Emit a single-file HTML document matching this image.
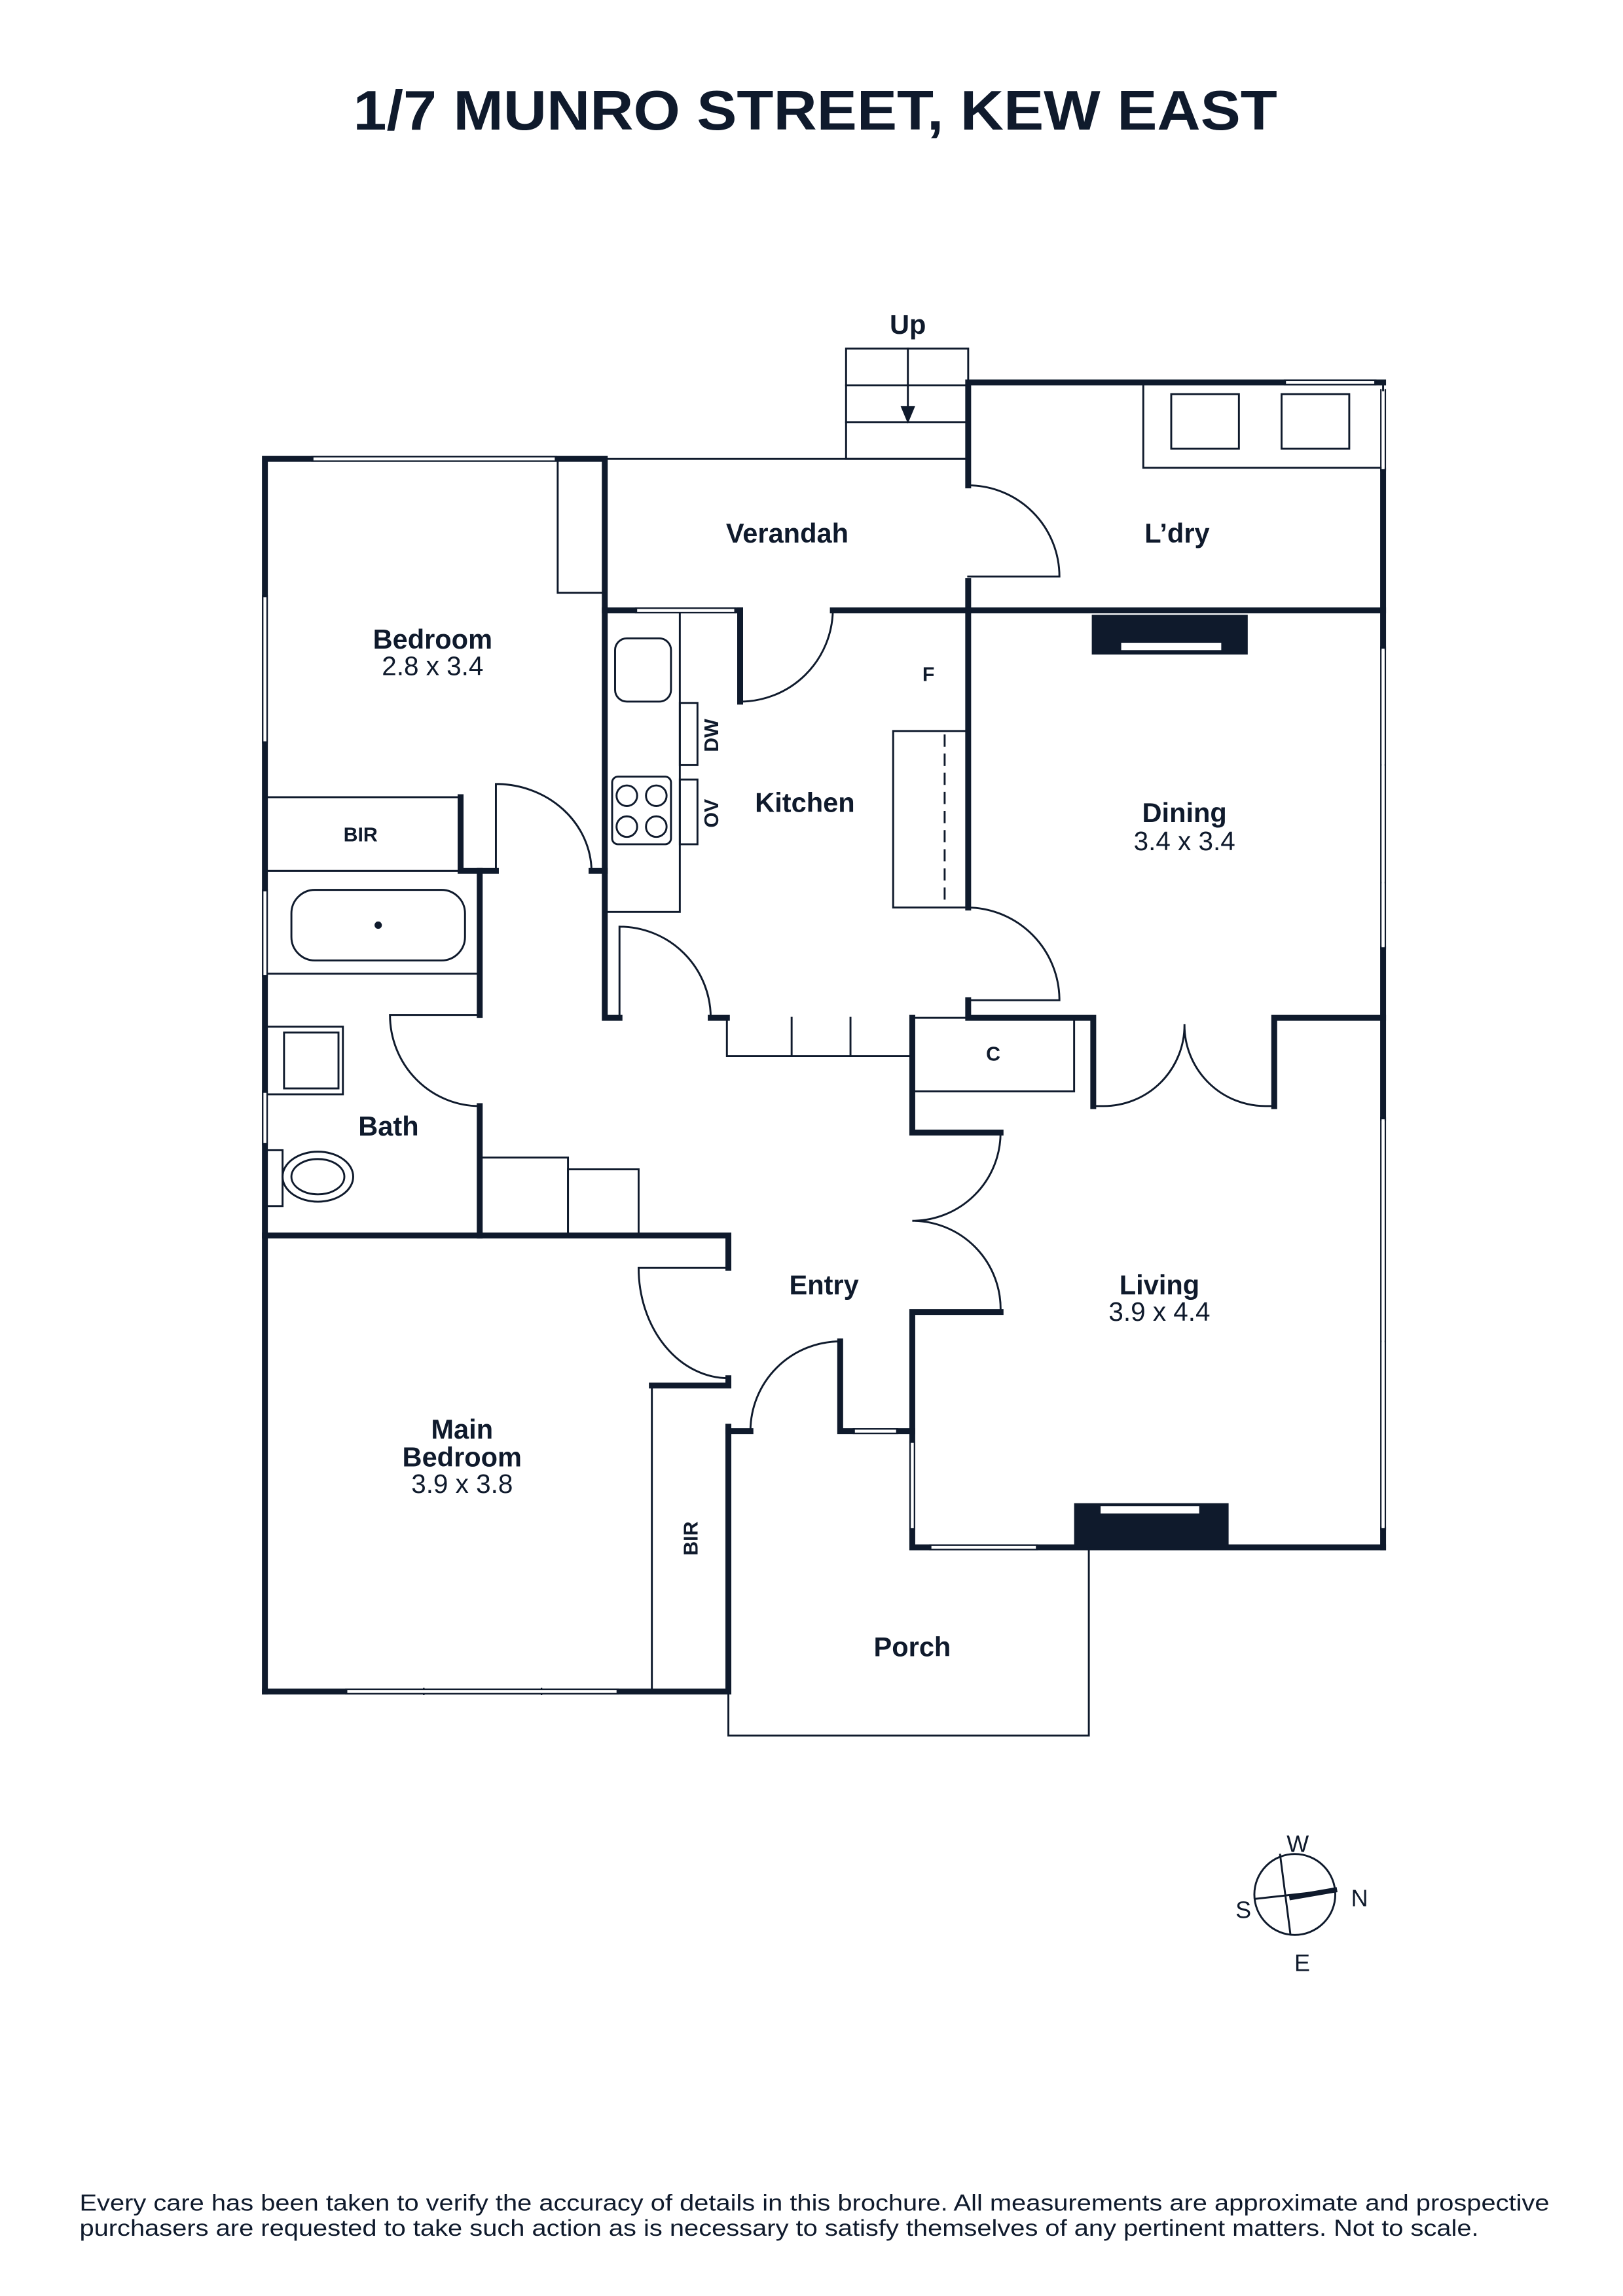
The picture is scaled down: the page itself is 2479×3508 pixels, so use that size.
<!DOCTYPE html>
<html><head><meta charset="utf-8"><style>
html,body{margin:0;padding:0;background:#fff}
svg{display:block}
text{font-family:"Liberation Sans",sans-serif;fill:#0f1a2c}
</style></head><body>
<svg width="2479" height="3508" viewBox="0 0 1103 1561" xmlns="http://www.w3.org/2000/svg">
<rect width="1103" height="1561" fill="#fff"/>
<text x="240" y="88" font-size="38" font-weight="bold" textLength="628" lengthAdjust="spacingAndGlyphs">1/7 MUNRO STREET, KEW EAST</text>

<g stroke="#0f1a2c" fill="none" stroke-linecap="square">
<g stroke-width="4">
<path d="M180,1150 V312 H411 V415 H503"/>
<path d="M566,415 H940"/>
<path d="M658,260 V330 M658,395 V415 M658,260 H940"/>
<path d="M940,320 V440 M940,645 V760 M940,1040 V1052"/>
<path d="M411,415 V692 H421 M483,692 H494"/>
<path d="M503,415 V477"/>
<path d="M658,415 V617 M658,680 V692 H743 V752 M866,752 V692 H940"/>
<path d="M313,542 V592 H337 M402,592 H411"/>
<path d="M326,592 V690 M326,752 V840"/>
<path d="M180,840 H495 V862 M495,937 V942 H443"/>
<path d="M495,970 V1150 H180"/>
<path d="M495,973 H510 M571,912 V973 H620 V1052 H940"/>
<path d="M620,692 V770 H680 M680,892 H620 V973"/>
</g>
<g stroke-width="1.3">
<path d="M411,312 H658"/>
<rect x="575" y="237" width="83" height="75"/>
<path d="M575,262 H658 M575,287 H658 M617,237 V282"/>
<rect x="379" y="312" width="32" height="91"/>
<rect x="777" y="260" width="163" height="58"/>
<rect x="796" y="268" width="46" height="37"/>
<rect x="871" y="268" width="46" height="37"/>
<path d="M658,330 A62,62 0 0 1 720,392 M658,392 H720"/>
<path d="M503,477 A63,63 0 0 0 566,415"/>
<rect x="411" y="415" width="51" height="205"/>
<rect x="418" y="434" width="38" height="43" rx="8"/>
<rect x="462" y="478" width="12" height="42"/>
<rect x="462" y="530" width="12" height="44"/>
<rect x="416" y="528" width="40" height="46" rx="4"/>
<circle cx="426" cy="541" r="7"/><circle cx="446" cy="541" r="7"/>
<circle cx="426" cy="562" r="7"/><circle cx="446" cy="562" r="7"/>
<rect x="607" y="497" width="51" height="120"/>
<path d="M642,500 V617" stroke-dasharray="7,6"/>
<path d="M658,617 A63,63 0 0 1 720,680 M658,680 H720"/>
<path d="M421,630 V692 M421,630 A62,62 0 0 1 483,692"/>
<path d="M494,692 V718 H620 V692 M538,692 V718 M578,692 V718"/>
<rect x="620" y="692" width="110" height="50"/>
<path d="M743,752 H750 A55,55 0 0 0 805,697 V702 M866,752 H860 A55,55 0 0 1 805,697"/>
<path d="M680,770 A60,60 0 0 1 620,830 A60,60 0 0 1 680,892"/>
<rect x="180" y="542" width="133" height="50"/>
<rect x="180" y="592" width="146" height="70"/>
<rect x="198" y="605" width="118" height="48" rx="16"/>
<path d="M337,533 V592 M337,533 A65,60 0 0 1 402,592"/>
<path d="M265,690 H326 M265,690 A61,62 0 0 0 326,752"/>
<rect x="180" y="698" width="53" height="46"/><rect x="193" y="702" width="37" height="38"/>
<rect x="180" y="782" width="12" height="38"/>
<ellipse cx="216" cy="800" rx="24" ry="17"/><ellipse cx="216" cy="800" rx="18" ry="12"/>
<rect x="326" y="787" width="60" height="53"/>
<rect x="386" y="795" width="48" height="45"/>
<path d="M434,862 H495 M434,862 A61,75 0 0 0 495,937"/>
<path d="M443,942 V1150"/>
<path d="M571,912 A61,61 0 0 0 510,973"/>
<path d="M495,1052 V1180 H740 V1052"/>
<circle cx="880" cy="1288" r="27.5"/>
<path d="M870,1261 L877,1315 M853,1291 L907,1285"/>
</g>
<path d="M878,1290 L907,1285" stroke-width="3.5"/>
<g stroke-width="1">
<path d="M212,310.5 H378 M212,313.5 H378"/>
<path d="M432,413.5 H500 M432,416.5 H500"/>
<path d="M873,258.5 H935 M873,261.5 H935"/>
<path d="M938.5,265 V320 M941.5,265 V320"/>
<path d="M178.5,405 V505 M181.5,405 V505 M178.5,605 V664 M181.5,605 V664 M178.5,742 V778 M181.5,742 V778"/>
<path d="M235,1148.5 H420 M235,1151.5 H420 M288,1148 V1152 M368,1148 V1152"/>
<path d="M938.5,440 V645 M941.5,440 V645 M939,520 H941 M939,600 H941"/>
<path d="M938.5,760 V1040 M941.5,760 V1040 M939,912 H941"/>
<path d="M580,971.5 H610 M580,974.5 H610"/>
<path d="M618.5,980 V1040 M621.5,980 V1040"/>
<path d="M632,1050.5 H705 M632,1053.5 H705"/>
</g>
</g>
<g fill="#fff">
<rect x="213" y="311" width="164" height="2"/><rect x="433" y="414" width="66" height="2"/>
<rect x="874" y="259" width="60" height="2"/><rect x="939" y="266" width="2" height="53"/>
<rect x="179" y="406" width="2" height="98"/><rect x="179" y="606" width="2" height="57"/><rect x="179" y="743" width="2" height="34"/>
<rect x="236" y="1149" width="183" height="2"/><rect x="939" y="441" width="2" height="203"/>
<rect x="939" y="761" width="2" height="278"/><rect x="581" y="972" width="28" height="2"/>
<rect x="619" y="981" width="2" height="58"/><rect x="633" y="1051" width="71" height="2"/>
</g>
<path d="M612,276 L622,276 L617,288 Z" fill="#0f1a2c"/>
<circle cx="257" cy="629" r="2.5" fill="#0f1a2c"/>
<rect x="742" y="418" width="106" height="27" fill="#0f1a2c"/>
<rect x="762" y="437" width="68" height="5" fill="#fff"/>
<rect x="730" y="1022" width="105" height="30" fill="#0f1a2c"/>
<rect x="748" y="1024" width="67" height="5" fill="#fff"/>

<g font-size="18.5" font-weight="bold" text-anchor="middle">
<text x="617" y="227">Up</text>
<text x="535" y="369">Verandah</text>
<text x="800" y="369">L’dry</text>
<text x="294" y="441">Bedroom</text>
<text x="547" y="552">Kitchen</text>
<text x="805" y="559">Dining</text>
<text x="264" y="772">Bath</text>
<text x="560" y="880">Entry</text>
<text x="788" y="880">Living</text>
<text x="314" y="978">Main</text>
<text x="314" y="997">Bedroom</text>
<text x="620" y="1126">Porch</text>
</g>
<g font-size="18" text-anchor="middle">
<text x="294" y="459">2.8 x 3.4</text>
<text x="805" y="578">3.4 x 3.4</text>
<text x="788" y="898">3.9 x 4.4</text>
<text x="314" y="1015">3.9 x 3.8</text>
</g>
<g font-size="13.5" font-weight="bold" text-anchor="middle">
<text x="245" y="572">BIR</text>
<text x="631" y="463">F</text>
<text x="675" y="721">C</text>
<text transform="translate(488,500) rotate(-90)">DW</text>
<text transform="translate(488,553) rotate(-90)">OV</text>
<text transform="translate(474,1046) rotate(-90)">BIR</text>
</g>
<g font-size="16" text-anchor="middle">
<text x="882" y="1259">W</text>
<text x="924" y="1296">N</text>
<text x="845" y="1304">S</text>
<text x="885" y="1340">E</text>
</g>
<g font-size="15.5">
<text x="54" y="1503" textLength="999" lengthAdjust="spacingAndGlyphs">Every care has been taken to verify the accuracy of details in this brochure. All measurements are approximate and prospective</text>
<text x="54" y="1520" textLength="951" lengthAdjust="spacingAndGlyphs">purchasers are requested to take such action as is necessary to satisfy themselves of any pertinent matters. Not to scale.</text>
</g>
</svg>
</body></html>
